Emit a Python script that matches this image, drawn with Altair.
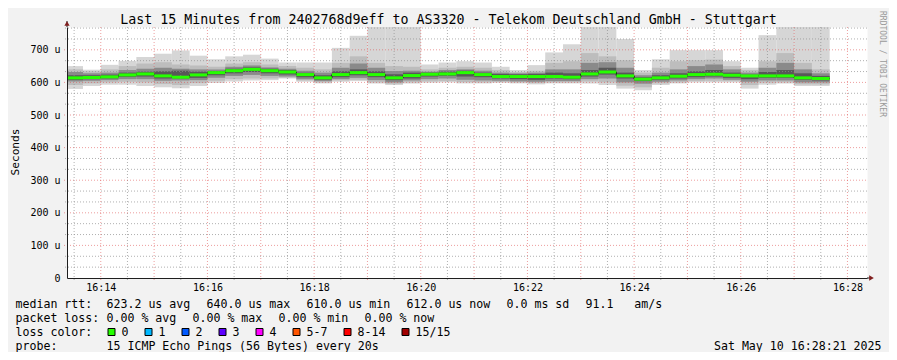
import altair as alt
import pandas as pd

FONT = "DejaVu Sans Mono"

# ---------------- data ----------------
VIEW_START = "16:13:22"
VIEW_END = "16:28:22"
FIRST_STEP = "16:13:20"
STEP_SECONDS = 20
Y_TOP = 770

median = [614, 615, 617, 623, 626, 620, 616, 623, 630, 636,
          640, 636, 632, 624, 614, 624, 630, 624, 614, 621,
          625, 626, 630, 624, 618, 618, 618, 618, 616, 626,
          632, 620, 610, 614, 619, 624, 625, 622, 620, 620,
          620, 614, 612]
# sorted pings (ping 15 = slowest ... ping 1 = fastest), microseconds
p15 = [650, 639, 654, 666, 678, 688, 698, 682, 671, 680,
       685, 673, 661, 661, 661, 706, 743, 800, 800, 800,
       655, 661, 665, 661, 648, 638, 653, 692, 717, 800,
       800, 733, 638, 671, 699, 699, 699, 665, 645, 745,
       800, 800, 800]
p14 = [640, 634, 640, 650, 658, 662, 655, 652, 648, 658,
       662, 655, 650, 645, 640, 660, 680, 660, 650, 648,
       640, 645, 648, 645, 638, 632, 636, 660, 665, 690,
       680, 668, 630, 645, 665, 668, 670, 650, 638, 665,
       690, 660, 640]
p12 = [632, 628, 630, 638, 642, 645, 642, 640, 640, 648,
       652, 646, 642, 636, 630, 645, 658, 645, 635, 636,
       633, 638, 640, 636, 630, 628, 630, 640, 640, 660,
       662, 645, 622, 630, 640, 650, 655, 640, 630, 645,
       660, 640, 628]
p10 = [622, 622, 624, 630, 633, 634, 636, 633, 635, 642,
       646, 642, 638, 630, 622, 634, 640, 634, 625, 630,
       630, 633, 636, 630, 626, 625, 626, 630, 628, 638,
       645, 630, 616, 622, 628, 634, 638, 630, 624, 632,
       638, 628, 620]
p6 = [608, 610, 612, 617, 618, 612, 612, 614, 622, 628,
      632, 628, 624, 616, 608, 616, 622, 616, 607, 612,
      618, 620, 618, 616, 612, 610, 608, 612, 610, 618,
      624, 612, 604, 608, 612, 616, 618, 614, 610, 614,
      614, 608, 606]
p4 = [603, 605, 607, 610, 610, 605, 606, 607, 614, 620,
      623, 620, 618, 610, 604, 610, 614, 607, 600, 606,
      610, 612, 608, 606, 605, 603, 602, 604, 604, 610,
      612, 600, 596, 602, 606, 610, 612, 608, 602, 606,
      606, 600, 600]
p2 = [592, 597, 600, 602, 600, 595, 592, 598, 605, 610,
      612, 612, 614, 606, 600, 606, 608, 600, 596, 600,
      603, 604, 601, 600, 601, 600, 598, 600, 600, 603,
      600, 590, 585, 597, 600, 604, 605, 604, 592, 599,
      600, 594, 594]
p1 = [580, 589, 593, 593, 589, 585, 582, 589, 598, 603,
      606, 607, 612, 602, 597, 602, 604, 597, 592, 597,
      599, 600, 597, 597, 599, 597, 594, 597, 597, 597,
      592, 581, 576, 592, 597, 600, 600, 600, 581, 593,
      597, 589, 589]

x_tick_labels = ["16:14", "16:16", "16:18", "16:20", "16:22", "16:24", "16:26", "16:28"]
y_tick_values = [0, 100, 200, 300, 400, 500, 600, 700]

loss_labels = ["0", "1", "2", "3", "4", "5-7", "8-14", "15/15"]
loss_colors = ["#26ff00", "#00b8ff", "#0059ff", "#5e00ff", "#ff00ff", "#ff5500", "#ff0000", "#a10000"]

title_text = "Last 15 Minutes from 2402768d9eff to AS3320 - Telekom Deutschland GmbH - Stuttgart"
y_title = "Seconds"
watermark = "RRDTOOL / TOBI OETIKER"
date_text = "Sat May 10 16:28:21 2025"
stats_rows = [
    ("median rtt:", ["623.2 us avg", "640.0 us max", "610.0 us min", "612.0 us now",
                     "0.0 ms sd", "91.1   am/s"]),
    ("packet loss:", ["0.00 % avg", "0.00 % max", "0.00 % min", "0.00 % now"]),
    ("loss color:", []),
    ("probe:", ["15 ICMP Echo Pings (56 Bytes) every 20s"]),
]

# ---------------- helpers ----------------
def iso(hms, add=0):
    t = pd.Timestamp("2025-05-10 " + hms) + pd.Timedelta(seconds=add)
    return t.strftime("%Y-%m-%dT%H:%M:%S")


def dt(hms):
    h, m, s = (int(p) for p in hms.split(":"))
    return alt.DateTime(year=2025, month=5, date=10, hours=h, minutes=m, seconds=s)


n = len(median)
steps = pd.DataFrame({
    "t0": [iso(FIRST_STEP, STEP_SECONDS * i) for i in range(n)],
    "t1": [iso(FIRST_STEP, STEP_SECONDS * (i + 1)) for i in range(n)],
    "median": median,
    "p1": p1, "p2": p2, "p4": p4, "p6": p6,
    "p10": p10, "p12": p12, "p14": p14, "p15": p15,
})

W, H = 800, 251
PX0, PY0 = 67, 27          # page position of plot origin
SVG_W, SVG_H = 881, 344    # must fit inside the page's 8px margins

x_scale = alt.Scale(domain=[dt(VIEW_START), dt(VIEW_END)])
y_scale = alt.Scale(domain=[0, Y_TOP], nice=False, zero=True)
x_axis = alt.Axis(values=[dt(l + ":00") for l in x_tick_labels], format="%H:%M",
                  labelFont=FONT, labelFontSize=10, labelColor="#000000",
                  labelPadding=4, ticks=False, grid=False, domainColor="#1f1f1f",
                  labelFlush=False, labelOverlap=False, zindex=2)
y_axis = alt.Axis(values=y_tick_values,
                  labelExpr="datum.value == 0 ? '0' : datum.value + ' u'",
                  labelFont=FONT, labelFontSize=10, labelColor="#000000",
                  labelPadding=7, ticks=False, grid=False, domainColor="#1f1f1f",
                  labelFlush=False, labelOverlap=False, zindex=2)


def X(f):
    return alt.X(f + ":T", scale=x_scale, axis=x_axis, title=None)


def Y(f):
    return alt.Y(f + ":Q", scale=y_scale, axis=y_axis, title=None)


layers = []

# smoke bands
band_defs = [("p1", "p15", "#d6d6d6"), ("p2", "p14", "#bdbdbd"),
             ("p4", "p12", "#8a8a8a"), ("p6", "p10", "#585858")]
for lo, hi, col in band_defs:
    layers.append(alt.Chart(steps).mark_rect(color=col, clip=True).encode(
        x=X("t0"), x2="t1:T", y=Y(lo), y2=hi + ":Q"))

# grid
hminor = pd.DataFrame({"v": [k * 100 / 3 for k in range(1, 24) if k % 3]})
hmajor = pd.DataFrame({"v": [100 * k for k in range(1, 8)]})
vminor = pd.DataFrame({"t": [iso("16:13:30", 60 * i) for i in range(15)]})
vmajor = pd.DataFrame({"t": [iso("16:14:00", 60 * i) for i in range(15)]})
GRID = dict(color="#8f8f8f", opacity=0.7, strokeDash=[1, 2], strokeWidth=1)
MGRID = dict(color="#de4f4f", opacity=0.55, strokeDash=[1, 2], strokeWidth=1)
layers.append(alt.Chart(hminor).mark_rule(**GRID).encode(y=Y("v"), x=alt.value(-2), x2=alt.value(W)))
layers.append(alt.Chart(vminor).mark_rule(**GRID).encode(x=X("t"), y=alt.value(0), y2=alt.value(H + 2)))
layers.append(alt.Chart(hmajor).mark_rule(**MGRID).encode(y=Y("v"), x=alt.value(-3), x2=alt.value(W)))
layers.append(alt.Chart(vmajor).mark_rule(**MGRID).encode(x=X("t"), y=alt.value(0), y2=alt.value(H + 3)))

# median: thin dark step line + loss-coloured segments
line_df = pd.DataFrame({"t": steps["t0"].tolist() + [steps["t1"].iloc[-1]],
                        "v": median + [median[-1]]})
layers.append(alt.Chart(line_df).mark_line(interpolate="step-after", color="#000000",
                                          strokeWidth=1, clip=True).encode(x=X("t"), y=Y("v")))
layers.append(alt.Chart(steps).mark_rule(color=loss_colors[0], strokeWidth=3, clip=True).encode(
    x=X("t0"), x2="t1:T", y=Y("median")))

one = pd.DataFrame({"k": [0]})

# axis extensions and arrows
layers.append(alt.Chart(one).mark_rule(color="#1f1f1f", strokeWidth=1).encode(
    x=alt.value(0), y=alt.value(-6), y2=alt.value(0)))
layers.append(alt.Chart(one).mark_rule(color="#1f1f1f", strokeWidth=1).encode(
    x=alt.value(W), x2=alt.value(W + 4), y=alt.value(H)))
layers.append(alt.Chart(one).mark_point(shape="triangle-up", filled=True, color="#801f1f",
                                        size=28, opacity=1).encode(x=alt.value(0), y=alt.value(-3.5)))
layers.append(alt.Chart(one).mark_point(shape="triangle-right", filled=True, color="#801f1f",
                                        size=28, opacity=1).encode(x=alt.value(W + 4.5), y=alt.value(H)))


def text_layer(s, page_x, page_y, size=11.6, align="left", baseline="alphabetic",
               angle=0, color="#000000"):
    return alt.Chart(one).mark_text(
        text=s.replace(" ", "\u00a0"), font=FONT, fontSize=size, align=align,
        baseline=baseline, angle=angle, color=color).encode(
        x=alt.value(page_x - PX0), y=alt.value(page_y - PY0))


layers.append(text_layer(title_text, 448.5, 24, size=13.3, align="center"))
layers.append(text_layer(y_title, 19, 152, size=11.2, align="center", baseline="alphabetic", angle=270))
layers.append(text_layer(watermark, 881.5, 64, size=8.0, align="center", baseline="middle",
                         angle=90, color="#9a9a9a"))

CW, GAP = 7.0, 16
COL0 = 15.5
VALUE_COL = COL0 + 13 * CW
baselines = [307.7, 321.7, 335.7, 349.5]
for (label, segs), by in zip(stats_rows, baselines):
    layers.append(text_layer(label, COL0, by))
    xpos = VALUE_COL
    for s in segs:
        layers.append(text_layer(s, xpos, by))
        xpos += len(s) * CW + GAP

# loss colour legend
xpos = VALUE_COL + 1.5
for lab, col in zip(loss_labels, loss_colors):
    layers.append(alt.Chart(one).mark_rect(color=col, stroke="#000000", strokeWidth=1).encode(
        x=alt.value(xpos - PX0), x2=alt.value(xpos + 7 - PX0),
        y=alt.value(328.5 - PY0), y2=alt.value(335.5 - PY0)))
    layers.append(text_layer(lab, xpos + 13.5, baselines[2]))
    xpos += 14 + len(lab) * CW + GAP

layers.append(text_layer(date_text, 881.5, baselines[3], align="right"))

chart = alt.layer(*layers).properties(
    width=W, height=H,
    padding={"left": PX0 - 8, "top": PY0 - 8,
             "right": SVG_W - (PX0 - 8) - W, "bottom": SVG_H - (PY0 - 8) - H},
    autosize=alt.AutoSizeParams(type="none"),
    background="#f2f2f2",
).configure_view(fill="#ffffff", stroke="transparent")

chart.save("out.html", embed_options={"renderer": "svg", "actions": False})
